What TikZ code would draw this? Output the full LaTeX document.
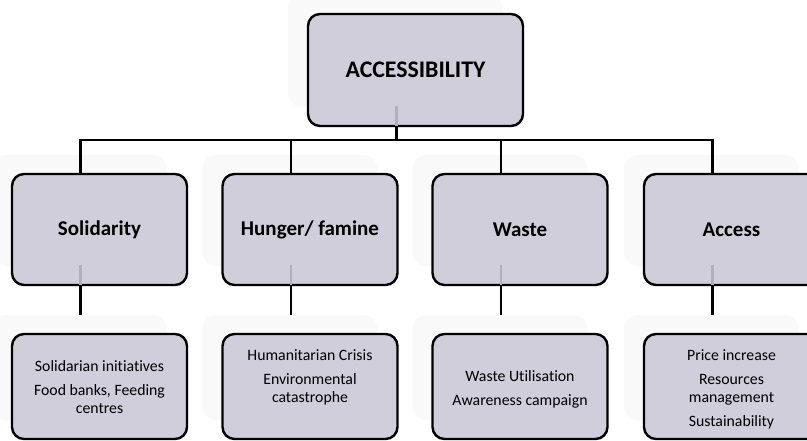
\documentclass[tikz,border=0pt]{standalone}
\usepackage{fontspec}
\setmainfont{Carlito}[Ligatures=NoCommon]
\usetikzlibrary{backgrounds}
\definecolor{boxfill}{RGB}{207,206,218}
\definecolor{ghostline}{RGB}{176,175,186}
\definecolor{haze}{RGB}{249,249,249}
\tikzset{
  x=1pt, y=-1pt,
  box/.style={draw=black, line width=2.4pt, fill=boxfill, rounded corners=12pt,
    inner sep=0pt, outer sep=0pt, align=center},
  headbox/.style={box, minimum width=215pt, minimum height=112pt,
    font=\fontsize{23.8}{26}\selectfont\bfseries},
  midbox/.style={box, minimum width=175pt, minimum height=111pt,
    font=\fontsize{21}{24}\selectfont\bfseries},
  leafbox/.style={box, minimum width=175pt, minimum height=105pt},
  leaftext/.style={align=center, inner sep=0pt, font=\fontsize{15.8}{18}\selectfont},
  link/.style={draw=black, line width=2.8pt},
  ghost/.style={draw=ghostline, line width=2.6pt},
  backdrop/.style={fill=haze, rounded corners=14pt},
}
\begin{document}
\begin{tikzpicture}
\useasboundingbox (0,0) rectangle (807,441);

% header
\node[headbox] (head) at (415.5,70) {ACCESSIBILITY};

% second row
\node[midbox] (sol) at (99.5,229.5) {Solidarity};
\node[midbox] (hun) at (310,229.5) {Hunger/ famine};
\node[midbox] (was) at (520,229.5) {Waste};
\node[midbox] (acs) at (731.5,229.5) {Access};

% leaf boxes
\node[leafbox] (solL) at (99.5,386.5) {};
\node[leafbox] (hunL) at (310,386.5) {};
\node[leafbox] (wasL) at (520,386.5) {};
\node[leafbox] (acsL) at (731.5,386.5) {};

\node[leaftext] (solT) at (99.5,387) {Solidarian initiatives\\[6pt]Food banks, Feeding\\centres};
\node[leaftext] (hunT) at (310,377) {Humanitarian Crisis\\[6pt]Environmental\\catastrophe};
\node[leaftext] (wasT) at (520,389) {Waste Utilisation\\[6pt]Awareness campaign};
\node[leaftext] (acsT) at (731.5,389) {Price increase\\[6pt]Resources\\management\\[6pt]Sustainability};

% pale backdrops behind each box
\begin{scope}[on background layer]
  \foreach \n in {head,sol,hun,was,acs,solL,hunL,wasL,acsL}{
    \path[backdrop] ([shift={(-20,-19)}]\n.north west) rectangle ([shift={(-20,-19)}]\n.south east);
  }
\end{scope}

% faint stubs inside the boxes
\foreach \n in {head,sol,hun,was,acs}{
  \draw[ghost] ([xshift=-19pt]\n.south) -- ++(0,-20);
}

% connectors from the header to the second row
\coordinate (bus) at ([shift={(-19,14)}]head.south);
\draw[link] ([xshift=-19pt]head.south) -- (bus);
\foreach \n in {sol,hun,was,acs}{
  \draw[link] (bus) -| ([xshift=-19pt]\n.north);
}

% short drops below the second row
\foreach \n in {sol,hun,was,acs}{
  \coordinate (\n-end) at ([shift={(-19,30)}]\n.south);
  \draw[link] ([xshift=-19pt]\n.south) -- (\n-end);
}
\end{tikzpicture}
\end{document}
